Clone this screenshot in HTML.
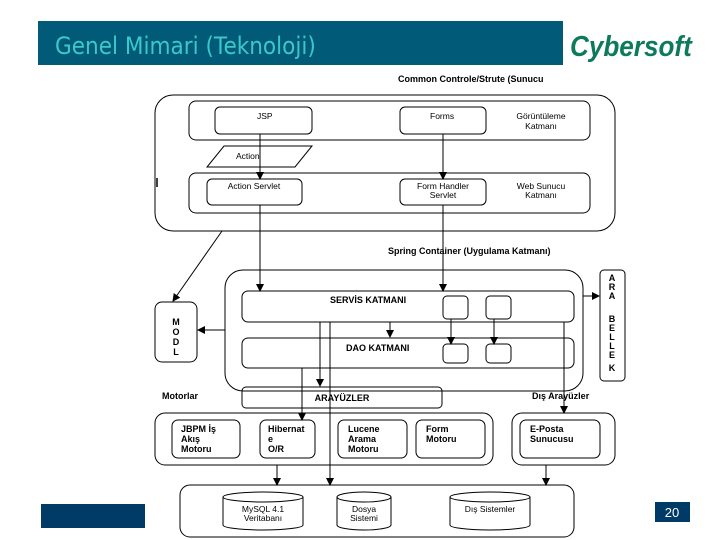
<!DOCTYPE html>
<html><head><meta charset="utf-8"><style>
html,body{margin:0;padding:0;background:#fff;width:720px;height:540px;overflow:hidden}
svg{display:block}
text{font-family:"Liberation Sans",sans-serif}
.b{font-weight:bold;font-size:9px}
.n{font-size:8.5px}
</style></head><body>
<svg width="720" height="540" viewBox="0 0 720 540" xmlns="http://www.w3.org/2000/svg">
<defs><marker id="a" markerWidth="8" markerHeight="8" refX="7" refY="4" orient="auto" markerUnits="userSpaceOnUse"><path d="M0,0 L8,4 L0,8 z" fill="#000"/></marker></defs>
<rect x="38" y="21" width="525" height="44" fill="#005a78"/>
<text x="55" y="54" font-size="24" fill="#3cc8c8" style="font-family:'DejaVu Sans',sans-serif" transform="translate(55,0) scale(0.9,1) translate(-55,0)">Genel Mimari (Teknoloji)</text>
<text x="570" y="56" font-size="29" font-weight="bold" fill="#0d7a5c" font-style="italic" transform="translate(570,0) scale(0.9,1) translate(-570,0)">Cybersoft</text>
<g fill="none" stroke="#000" stroke-width="1">
<rect x="155" y="95" width="460" height="136" rx="18"/>
<rect x="189" y="101" width="401" height="39" rx="7"/>
<rect x="215" y="107" width="97" height="27" rx="5"/>
<rect x="400" y="107" width="86" height="27" rx="5"/>
<path d="M224,146 L312,146 L295,167 L207,167 Z"/>
<rect x="189" y="173" width="401" height="40" rx="7"/>
<rect x="207" y="179" width="95" height="26" rx="5"/>
<rect x="400" y="179" width="86" height="26" rx="5"/>
<rect x="225" y="270" width="358" height="121" rx="18"/>
<rect x="242" y="291" width="332" height="31" rx="6"/>
<rect x="242" y="338" width="332" height="30" rx="6"/>
<rect x="443" y="296" width="25" height="23" rx="4"/>
<rect x="486" y="296" width="25" height="23" rx="4"/>
<rect x="443" y="344" width="25" height="19" rx="4"/>
<rect x="486" y="344" width="25" height="19" rx="4"/>
<rect x="155" y="302" width="42" height="60" rx="7"/>
<rect x="600" y="270" width="25" height="111" rx="4"/>
<rect x="242" y="387" width="200" height="21" rx="4"/>
<rect x="155" y="413" width="338" height="52" rx="10"/>
<rect x="172" y="420" width="68" height="38" rx="6"/>
<rect x="260" y="420" width="55" height="38" rx="6"/>
<rect x="338" y="420" width="69" height="38" rx="6"/>
<rect x="416" y="420" width="69" height="38" rx="6"/>
<rect x="512" y="413" width="103" height="52" rx="10"/>
<rect x="520" y="420" width="80" height="38" rx="6"/>
<rect x="180" y="485" width="394" height="52" rx="10"/>
<path d="M223,497 L223,525 A40,5 0 0 0 303,525 L303,497"/><ellipse cx="263" cy="497" rx="40" ry="5"/>
<path d="M337,497 L337,525 A27,5 0 0 0 391,525 L391,497"/><ellipse cx="364" cy="497" rx="27" ry="5"/>
<path d="M450,497 L450,525 A40,5 0 0 0 530,525 L530,497"/><ellipse cx="490" cy="497" rx="40" ry="5"/>
<g marker-end="url(#a)">
<line x1="260" y1="134" x2="260" y2="179"/>
<line x1="443" y1="134" x2="443" y2="179"/>
<line x1="260" y1="205" x2="260" y2="291"/>
<line x1="443" y1="205" x2="443" y2="291"/>
<line x1="222" y1="231" x2="173" y2="301"/>
<line x1="390" y1="322" x2="390" y2="337"/>
<line x1="451" y1="319" x2="451" y2="344"/>
<line x1="494" y1="319" x2="494" y2="344"/>
<line x1="225" y1="330" x2="198" y2="330"/>
<line x1="583" y1="296" x2="599" y2="296"/>
<line x1="320" y1="322" x2="320" y2="386"/>
<line x1="330" y1="322" x2="330" y2="485"/>
<line x1="302" y1="368" x2="302" y2="420"/>
<line x1="564" y1="322" x2="564" y2="413"/>
<line x1="277" y1="465" x2="277" y2="485"/>
<line x1="546" y1="465" x2="546" y2="485"/>
</g>
</g>
<line x1="157" y1="178" x2="157" y2="187" stroke="#000" stroke-width="1.5"/>
<text x="398" y="82" class="b">Common Controle/Strute (Sunucu</text>
<text x="257" y="119" class="n">JSP</text>
<text x="430" y="119" class="n">Forms</text>
<text x="541" y="119" class="n" text-anchor="middle">Görüntüleme</text>
<text x="541" y="129" class="n" text-anchor="middle">Katmanı</text>
<text x="236" y="159" class="n">Action</text>
<text x="254" y="189" class="n" text-anchor="middle">Action Servlet</text>
<text x="443" y="189" class="n" text-anchor="middle">Form Handler</text>
<text x="443" y="198" class="n" text-anchor="middle">Servlet</text>
<text x="541" y="189" class="n" text-anchor="middle">Web Sunucu</text>
<text x="541" y="198" class="n" text-anchor="middle">Katmanı</text>
<text x="388" y="254" class="b">Spring Container (Uygulama Katmanı)</text>
<text x="330" y="303" class="b">SERVİS KATMANI</text>
<text x="346" y="351" class="b">DAO KATMANI</text>
<text x="176" y="325" class="b" text-anchor="middle">M</text>
<text x="176" y="335" class="b" text-anchor="middle">O</text>
<text x="176" y="345" class="b" text-anchor="middle">D</text>
<text x="176" y="355" class="b" text-anchor="middle">L</text>
<g class="b" text-anchor="middle">
<text x="612" y="281">A</text><text x="612" y="290">R</text><text x="612" y="299">A</text>
<text x="612" y="322">B</text><text x="612" y="331">E</text><text x="612" y="340">L</text><text x="612" y="349">L</text><text x="612" y="358">E</text><text x="612" y="371">K</text>
</g>
<text x="162" y="399" class="b">Motorlar</text>
<text x="342" y="401" class="b" text-anchor="middle">ARAYÜZLER</text>
<text x="532" y="399" class="b">Dış Arayüzler</text>
<text x="181" y="432" class="b">JBPM İş</text><text x="181" y="442" class="b">Akış</text><text x="181" y="452" class="b">Motoru</text>
<text x="268" y="432" class="b">Hibernat</text><text x="268" y="442" class="b">e</text><text x="268" y="452" class="b">O/R</text>
<text x="348" y="432" class="b">Lucene</text><text x="348" y="442" class="b">Arama</text><text x="348" y="452" class="b">Motoru</text>
<text x="426" y="432" class="b">Form</text><text x="426" y="442" class="b">Motoru</text>
<text x="530" y="432" class="b">E-Posta</text><text x="530" y="442" class="b">Sunucusu</text>
<text x="263" y="512" class="n" text-anchor="middle">MySQL 4.1</text>
<text x="263" y="521" class="n" text-anchor="middle">Veritabanı</text>
<text x="364" y="512" class="n" text-anchor="middle">Dosya</text>
<text x="364" y="521" class="n" text-anchor="middle">Sistemi</text>
<text x="490" y="512" class="n" text-anchor="middle">Dış Sistemler</text>
<rect x="41" y="504" width="104" height="24" fill="#003a66"/>
<rect x="655" y="502" width="35" height="20" fill="#003a66"/>
<text x="672" y="517" font-size="13" fill="#fff" text-anchor="middle">20</text>
</svg>
</body></html>
